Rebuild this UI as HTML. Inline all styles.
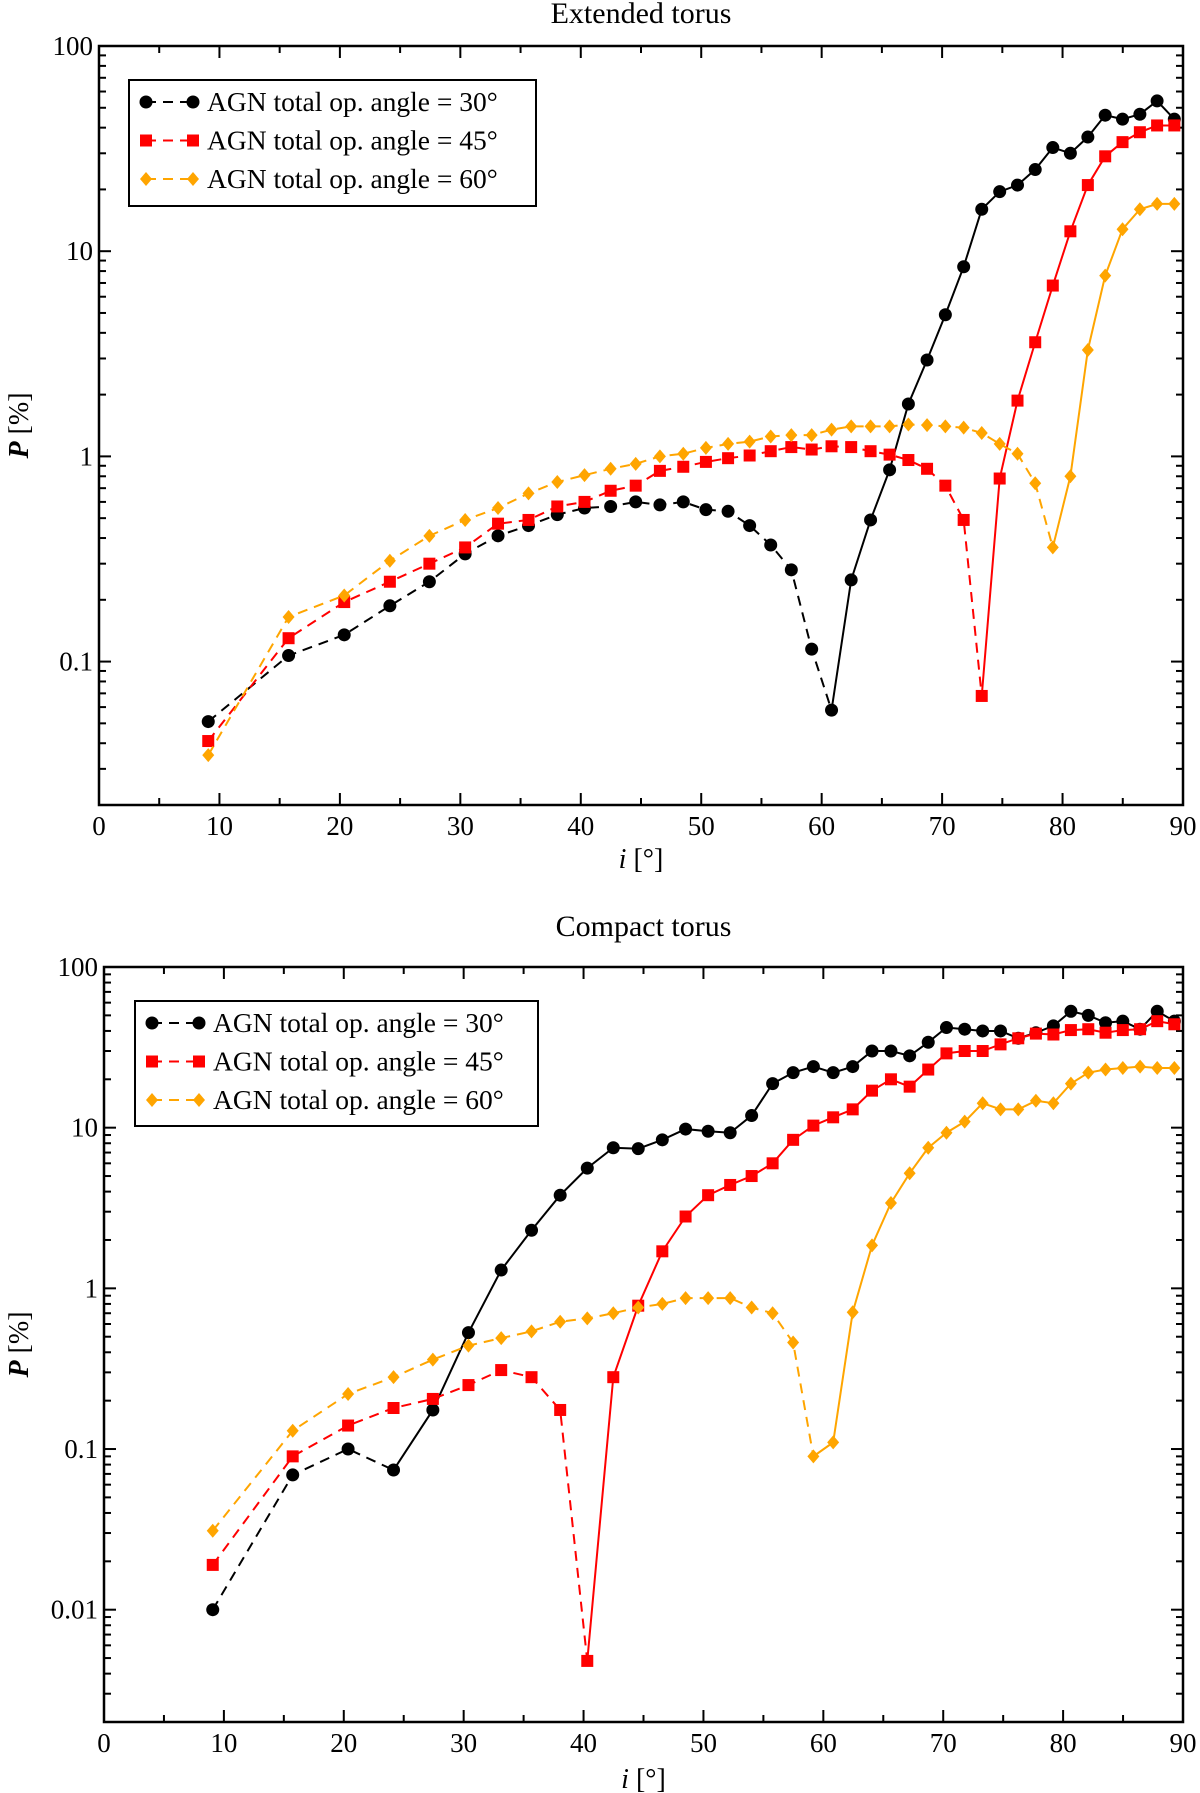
<!DOCTYPE html>
<html><head><meta charset="utf-8"><style>
body{margin:0;background:#fff}
svg{display:block;font-family:"Liberation Serif",serif}
</style></head><body>
<svg id="fig" width="1200" height="1793" viewBox="0 0 1200 1793" xmlns="http://www.w3.org/2000/svg"></svg>
<script>
const inclinations=[9.07,15.74,20.36,24.15,27.43,30.40,33.13,35.66,38.05,40.31,42.48,44.56,46.57,48.51,50.39,52.23,54.02,55.77,57.48,59.17,60.82,62.45,64.06,65.64,67.20,68.75,70.27,71.79,73.29,74.78,76.26,77.73,79.19,80.65,82.10,83.54,84.98,86.42,87.85,89.28];
const extBlack=[0.051,0.107,0.135,0.187,0.245,0.335,0.41,0.46,0.52,0.56,0.57,0.60,0.58,0.60,0.55,0.54,0.46,0.37,0.28,0.115,0.058,0.25,0.49,0.86,1.8,2.95,4.9,8.4,16,19.5,21,25,32,30,36,46,44,46.5,54,44];
const extRed=[0.041,0.13,0.195,0.245,0.30,0.36,0.47,0.49,0.57,0.60,0.68,0.72,0.85,0.89,0.94,0.98,1.01,1.06,1.11,1.08,1.12,1.11,1.06,1.02,0.96,0.87,0.72,0.49,0.068,0.78,1.87,3.6,6.8,12.5,21,29,34,38,41,41];
const extOrange=[0.035,0.165,0.21,0.31,0.41,0.49,0.56,0.66,0.75,0.81,0.87,0.92,1.0,1.03,1.1,1.15,1.18,1.25,1.27,1.27,1.35,1.4,1.4,1.4,1.43,1.42,1.4,1.38,1.3,1.15,1.03,0.74,0.36,0.8,3.3,7.6,12.8,16,17,17];
const cmpBlack=[0.01,0.069,0.10,0.074,0.175,0.53,1.3,2.3,3.8,5.6,7.5,7.4,8.4,9.8,9.5,9.3,11.9,18.8,22,24,22,24,30,30,28,34,42,41,40,40,36,39,43,53,50,45,46,41,53,46];
const cmpRed=[0.019,0.09,0.14,0.18,0.205,0.25,0.31,0.28,0.175,0.0048,0.28,0.78,1.7,2.8,3.8,4.4,5.0,6.0,8.4,10.3,11.6,13,17,20,18,23,29,30,30,33,36,38.5,38,40.5,41,39,40.5,41,46,44];
const cmpOrange=[0.031,0.13,0.22,0.28,0.36,0.44,0.49,0.54,0.62,0.65,0.70,0.76,0.80,0.87,0.87,0.87,0.76,0.70,0.46,0.09,0.11,0.71,1.85,3.4,5.2,7.5,9.3,10.9,14.2,13,13,14.7,14.2,18.8,22,23,23.5,24,23.5,23.5];
const xTicks=[0,10,20,30,40,50,60,70,80,90];
const extYTicks=[0.1,1,10,100];
const extYLabels=["0.1","1","10","100"];
const cmpYTicks=[0.01,0.1,1,10,100];
const cmpYLabels=["0.01","0.1","1","10","100"];
const legendLabels=["AGN total op. angle = 30°","AGN total op. angle = 45°","AGN total op. angle = 60°"];

const NS="http://www.w3.org/2000/svg";
const svg=document.getElementById('fig');
function mk(tag,attrs,parent){const e=document.createElementNS(NS,tag);for(const k in attrs)e.setAttribute(k,attrs[k]);(parent||svg).appendChild(e);return e;}

function marker(g,shape,x,y,color){
  let e;
  if(shape==='circle'){e=mk('circle',{cx:x,cy:y,r:6.5,fill:color},g);}
  else if(shape==='square'){e=mk('rect',{x:x-6,y:y-6,width:12,height:12,fill:color},g);}
  else {e=mk('polygon',{points:`${x},${y-7} ${x+6},${y} ${x},${y+7} ${x-6},${y}`,fill:color},g);}
  
  
}

function plot(cfg){
  const L=cfg.L,R=cfg.R,T=cfg.T,B=cfg.B;
  const lmin=Math.log10(cfg.ymin),lmax=Math.log10(cfg.ymax);
  const X=v=>L+(v-0)/90*(R-L);
  const Y=v=>T+(lmax-Math.log10(v))/(lmax-lmin)*(B-T);
  const g=mk('g',{});
  
  
  const t=mk('text',{x:(L+R)/2,y:cfg.titleY,'text-anchor':'middle','font-size':30},g);
  t.textContent=cfg.title;
  
  
  for(let v=0;v<=90;v+=5){
    const len=(v%10===0)?12:7,x=X(v);
    mk('line',{x1:x,y1:B,x2:x,y2:B-len,stroke:'#000','stroke-width':2},g);
    mk('line',{x1:x,y1:T,x2:x,y2:T+len,stroke:'#000','stroke-width':2},g);
  }
  xTicks.forEach(v=>{
    const e=mk('text',{x:X(v),y:B+30,'text-anchor':'middle','font-size':27},g);
    e.textContent=v;
    
    
  });
  for(let d=Math.floor(lmin);d<lmax;d++){
    for(let m=1;m<=9;m++){
      const v=m*Math.pow(10,d);
      if(v<cfg.ymin*0.999||v>cfg.ymax*1.001)continue;
      const len=m===1?12:7,y=Y(v);
      mk('line',{x1:L,y1:y,x2:L+len,y2:y,stroke:'#000','stroke-width':2},g);
      mk('line',{x1:R,y1:y,x2:R-len,y2:y,stroke:'#000','stroke-width':2},g);
    }
  }
  cfg.yTicks.forEach((v,i)=>{
    const e=mk('text',{x:L-6,y:Y(v)+9,'text-anchor':'end','font-size':27},g);
    e.textContent=cfg.yLabels[i];
    
    
  });
  const xl=mk('text',{x:(L+R)/2,y:cfg.xLabelY,'text-anchor':'middle','font-size':28},g);
  xl.innerHTML='<tspan font-style="italic">i</tspan>  [°]';
  
  
  const yl=mk('text',{x:0,y:0,'text-anchor':'middle','font-size':28,transform:`translate(28,${(T+B)/2}) rotate(-90)`},g);
  yl.innerHTML='<tspan font-style="italic" font-weight="bold">P</tspan>  [%]';
  
  
  cfg.series.forEach(s=>{
    const sg=mk('g',{},g);
    
    
    const pts=s.vals.map((v,i)=>[X(inclinations[i]),Y(v)]);
    const d1=pts.slice(0,s.split+1).map(p=>p.join(',')).join(' ');
    const d2=pts.slice(s.split).map(p=>p.join(',')).join(' ');
    mk('polyline',{points:d1,fill:'none',stroke:s.color,'stroke-width':2,'stroke-dasharray':'10,7'},sg);
    mk('polyline',{points:d2,fill:'none',stroke:s.color,'stroke-width':2},sg);
    pts.forEach(p=>marker(sg,s.shape,p[0],p[1],s.color));
  });
  mk('rect',{x:L,y:T,width:R-L,height:B-T,fill:'none',stroke:'#000','stroke-width':2.5},g);
  const lg=mk('g',{},g);
  
  
  const lx=cfg.leg[0],ly=cfg.leg[1];
  mk('rect',{x:lx,y:ly,width:cfg.leg[2],height:cfg.leg[3],fill:'#fff',stroke:'#000','stroke-width':2},lg);
  cfg.series.forEach((s,i)=>{
    const yy=ly+22+i*38.5;
    const eg=mk('g',{},lg);
    
    
    mk('line',{x1:lx+17,y1:yy,x2:lx+64,y2:yy,stroke:s.color,'stroke-width':2,'stroke-dasharray':'10,7'},eg);
    marker(eg,s.shape,lx+17,yy,s.color);
    marker(eg,s.shape,lx+64,yy,s.color);
    const tx=mk('text',{x:lx+78,y:yy+9,'font-size':27.5},eg);
    tx.textContent=legendLabels[i];
  });
}

plot({name:'extended-torus-chart',title:'Extended torus',titleY:23,L:99,R:1183,T:46,B:805,ymin:0.02,ymax:100,
  yTicks:extYTicks,yLabels:extYLabels,xLabelY:868,leg:[129,80,407,126],
  series:[{name:'series-30deg',vals:extBlack,color:'#000',shape:'circle',split:20},
          {name:'series-45deg',vals:extRed,color:'#f00',shape:'square',split:28},
          {name:'series-60deg',vals:extOrange,color:'#ffa500',shape:'diamond',split:32}]});
plot({name:'compact-torus-chart',title:'Compact torus',titleY:936,L:104,R:1183,T:967,B:1722,ymin:0.002,ymax:100,
  yTicks:cmpYTicks,yLabels:cmpYLabels,xLabelY:1788,leg:[135,1001,403,125],
  series:[{name:'series-30deg',vals:cmpBlack,color:'#000',shape:'circle',split:3},
          {name:'series-45deg',vals:cmpRed,color:'#f00',shape:'square',split:9},
          {name:'series-60deg',vals:cmpOrange,color:'#ffa500',shape:'diamond',split:19}]});
</script>
</body></html>
